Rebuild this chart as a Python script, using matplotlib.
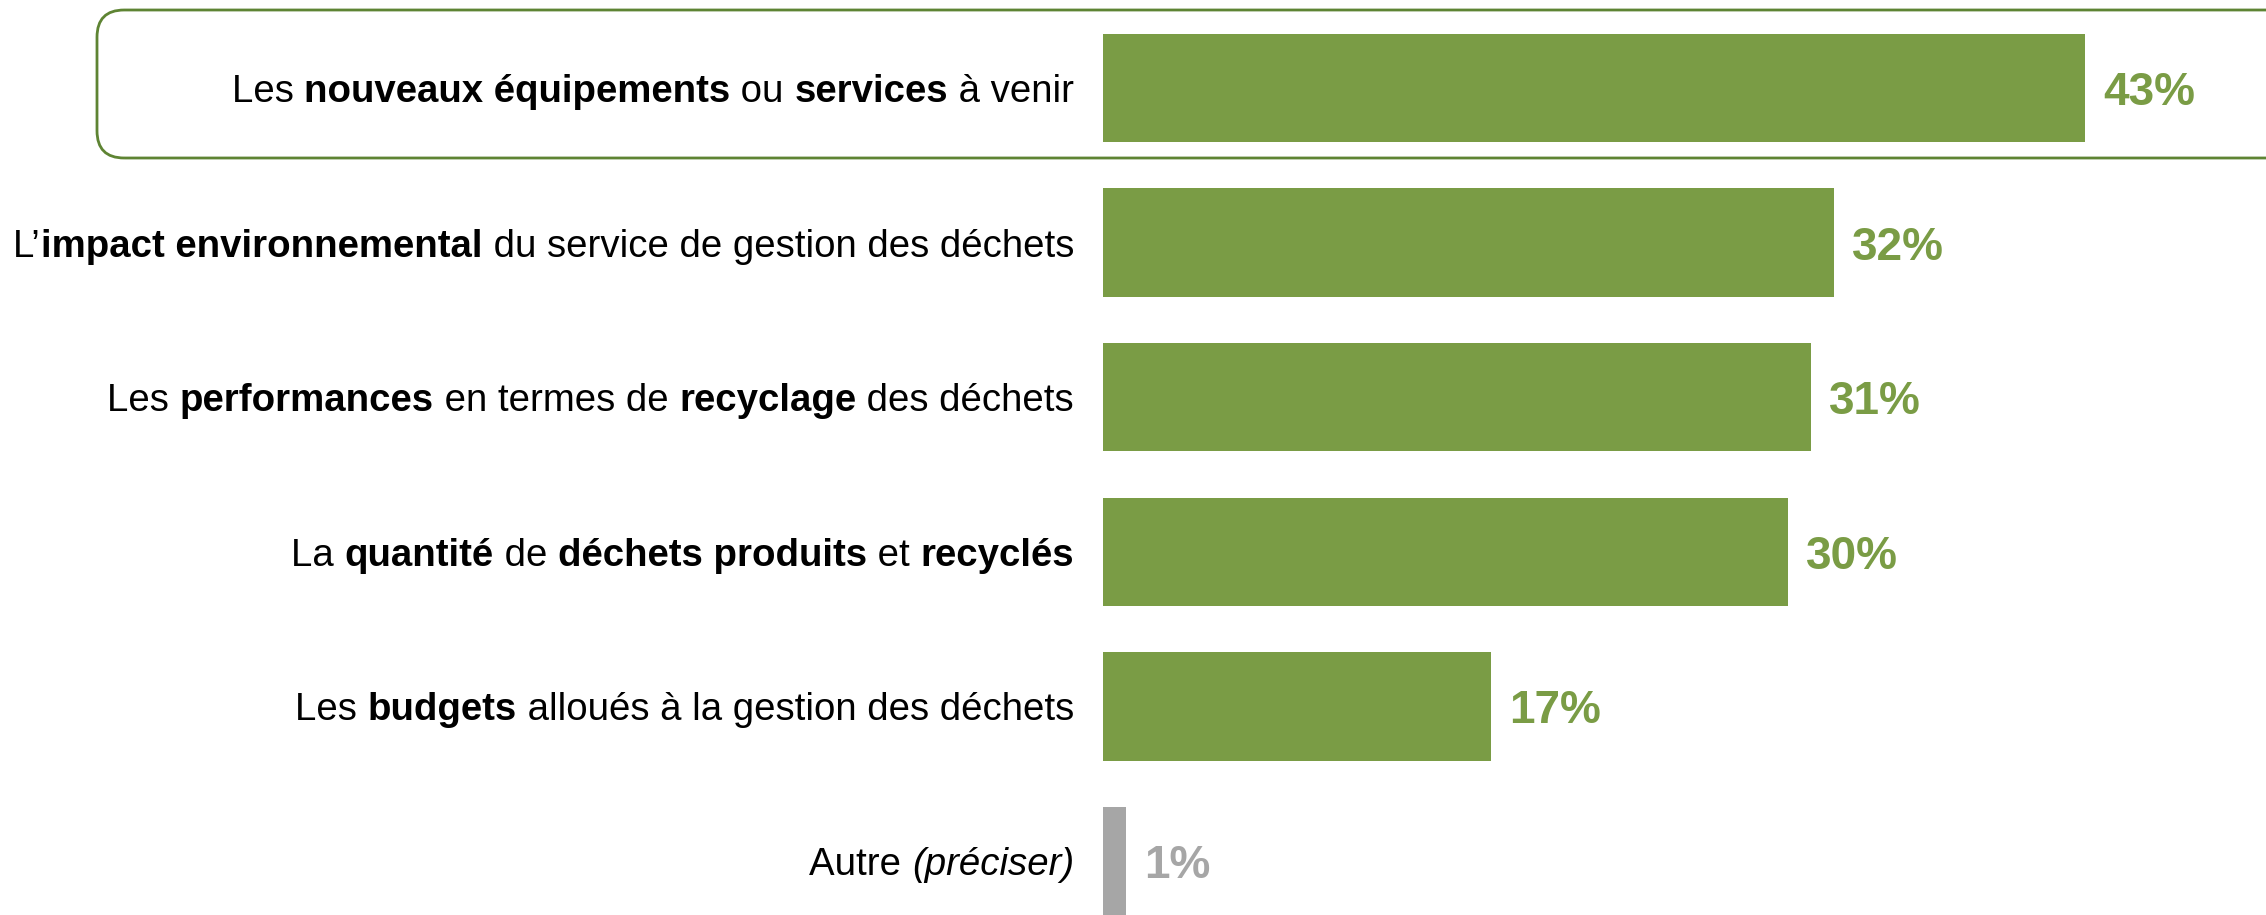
import matplotlib
matplotlib.use("Agg")
import matplotlib.pyplot as plt
from matplotlib.patches import FancyBboxPatch
from matplotlib import font_manager

# Survey data: share of respondents per topic
labels = [
    [("Les ", "normal"), ("nouveaux équipements", "bold"), (" ou ", "normal"),
     ("services", "bold"), (" à venir", "normal")],
    [("L’", "normal"), ("impact environnemental", "bold"),
     (" du service de gestion des déchets", "normal")],
    [("Les ", "normal"), ("performances", "bold"), (" en termes de ", "normal"),
     ("recyclage", "bold"), (" des déchets", "normal")],
    [("La ", "normal"), ("quantité", "bold"), (" de ", "normal"),
     ("déchets produits", "bold"), (" et ", "normal"), ("recyclés", "bold")],
    [("Les ", "normal"), ("budgets", "bold"),
     (" alloués à la gestion des déchets", "normal")],
    [("Autre ", "normal"), ("(préciser)", "italic")],
]
values = [43, 32, 31, 30, 17, 1]

GREEN = "#7a9c45"
GREY = "#a6a6a6"
colors = [GREEN] * 5 + [GREY]

names = {f.name for f in font_manager.fontManager.ttflist}
family = "Liberation Sans Narrow" if "Liberation Sans Narrow" in names else "Liberation Sans"

W, H = 2266, 915
fig = plt.figure(figsize=(W / 100, H / 100), dpi=100)

x0_px = 1103
px_per_pct = 22.84
ax = fig.add_axes([x0_px / W, 0, 1 - x0_px / W, 1])
ax.set_xlim(0, (W - x0_px) / px_per_pct)
step = 154.6
ax.set_ylim(5 + (H - 861) / step, -88 / step)
ax.axis("off")

ypos = list(range(len(values)))
ax.barh(ypos, values, height=0.7, color=colors)

for y, v, c in zip(ypos, values, colors):
    ax.text(v + 0.8, y, f"{v}%", va="center_baseline", ha="left", fontsize=33,
            fontweight="bold", color=c, family="Liberation Sans")

# highlight box around the top item
box_l, box_t, box_b = 97, 10, 158
box = FancyBboxPatch((box_l / W, 1 - box_b / H), (W + 100 - box_l) / W,
                     (box_b - box_t) / H,
                     boxstyle="round,pad=0,rounding_size=0.012",
                     transform=fig.transFigure, mutation_aspect=W / H,
                     facecolor="none", edgecolor="#5e8433", linewidth=2,
                     clip_on=False)
fig.add_artist(box)

# rich category labels, right aligned against the bars
fig.canvas.draw()
renderer = fig.canvas.get_renderer()
right_px = 1074
for y, parts in zip(ypos, labels):
    yd = ax.transData.transform((0, y))[1]
    x = right_px
    for text, style in reversed(parts):
        kw = dict(fontsize=27.6, family=family, color="black", va="center_baseline")
        if style == "bold":
            kw["fontweight"] = "bold"
        if style == "italic":
            kw["fontstyle"] = "italic"
        t = fig.text(x / W, yd / H, text, ha="right", **kw)
        bb = t.get_window_extent(renderer)
        x -= bb.width

fig.savefig("out.png", dpi=100)
